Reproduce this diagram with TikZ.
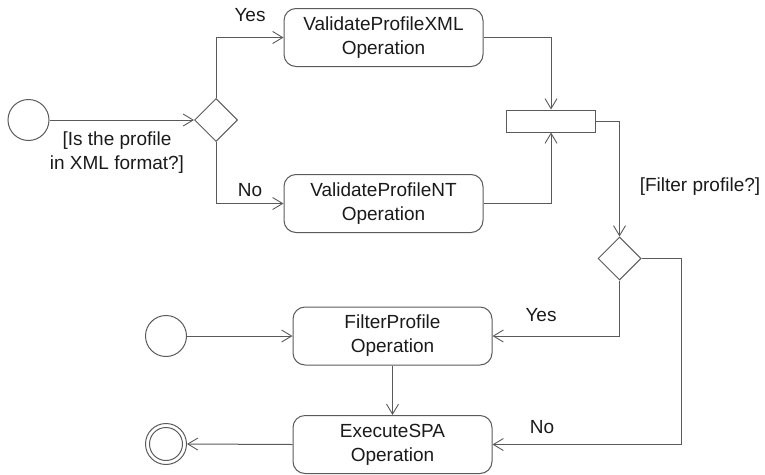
\documentclass[tikz,border=0pt]{standalone}
\usepackage{fontspec}
\setmainfont{Liberation Sans}
\usetikzlibrary{arrows.meta,shapes.geometric}
\definecolor{ln}{HTML}{5A5A5A}
\definecolor{tx}{HTML}{1A1A1A}
\begin{document}
\begin{tikzpicture}[x=1pt,y=-1pt,
  font=\fontsize{19}{24}\selectfont, text=tx,
  every path/.style={line width=1pt},
  conn/.style={draw=ln, -{Straight Barb[length=10pt,width=12pt,line width=0.9pt]}},
  actbox/.style={draw=ln, rounded corners=12pt, minimum width=199pt, minimum height=58pt, align=center, inner sep=0pt},
  startnode/.style={draw=ln, circle, minimum size=41pt, inner sep=0pt},
  decision/.style={draw=ln, diamond, minimum width=43pt, minimum height=43pt, inner sep=0pt, aspect=1},
  lbl/.style={align=center, inner sep=0pt}]
\useasboundingbox (0,0) rectangle (765,474);
\node[startnode] (s1) at (28.5,120) {};
\node[decision] (d1) at (216,120) {};
\node[actbox] (xml) at (383.5,37.5) {ValidateProfileXML\\Operation};
\node[actbox] (nt) at (383.5,203.5) {ValidateProfileNT\\Operation};
\node[draw=ln, minimum width=89pt, minimum height=22pt, inner sep=0pt] (bar) at (551,121) {};
\node[decision] (d2) at (619.5,258.5) {};
\node[actbox] (fp) at (392.5,336) {FilterProfile\\Operation};
\node[actbox] (ex) at (392.5,444.5) {ExecuteSPA\\Operation};
\node[startnode] (s2) at (166,336) {};
\node[startnode] (e) at (166,444) {};
\node[draw=ln, circle, minimum size=33pt, inner sep=0pt] (ein) at (e.center) {};

\node[lbl] (q1) at (117,153) {[Is the profile\\in XML format?]};
\node[lbl] (y1) at (250,15) {Yes};
\node[lbl] (n1) at (250,190) {No};
\node[lbl] (q2) at (700,187) {[Filter profile?]};
\node[lbl] (y2) at (541,315) {Yes};
\node[lbl] (n2) at (542,427) {No};

\draw[conn] (s1.east) -- (d1.west);
\draw[conn] (d1.north) |- (xml.west);
\draw[conn] (d1.south) |- (nt.west);
\draw[conn] (xml.east) -| (bar.north);
\draw[conn] (nt.east) -| (bar.south);
\draw[conn] (bar.east) -| (d2.north);
\draw[conn] (d2.south) |- (fp.east);
\draw[conn] (d2.east) -- ++(40,0) |- (ex.east);
\draw[conn] (s2.east) -- (fp.west);
\draw[conn] (fp.south) -- (ex.north);
\draw[conn] (ex.west) -- (e.east);
\end{tikzpicture}
\end{document}
